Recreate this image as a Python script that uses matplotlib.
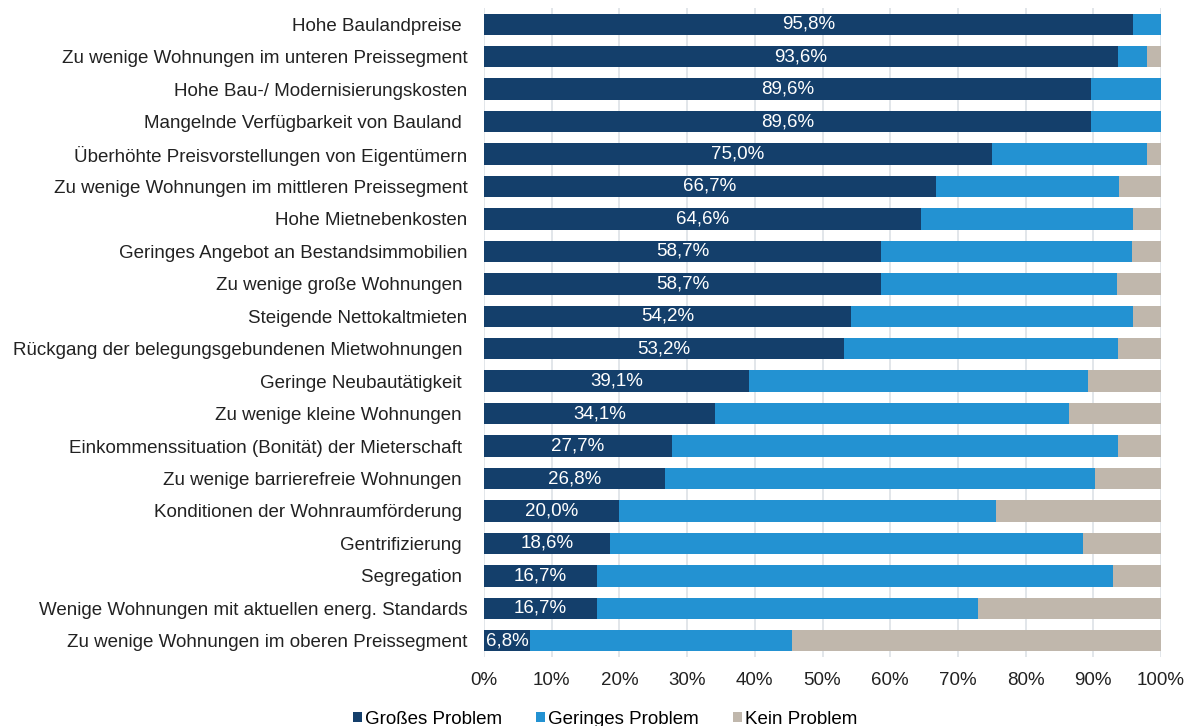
import matplotlib.pyplot as plt
import numpy as np

plt.rcParams['font.family'] = ['Liberation Sans', 'DejaVu Sans']

# Problemfelder (von oben nach unten), Leerzeichen am Ende wie im Original-Label
categories = [
    "Hohe Baulandpreise ",
    "Zu wenige Wohnungen im unteren Preissegment",
    "Hohe Bau-/ Modernisierungskosten",
    "Mangelnde Verfügbarkeit von Bauland ",
    "Überhöhte Preisvorstellungen von Eigentümern",
    "Zu wenige Wohnungen im mittleren Preissegment",
    "Hohe Mietnebenkosten",
    "Geringes Angebot an Bestandsimmobilien",
    "Zu wenige große Wohnungen ",
    "Steigende Nettokaltmieten",
    "Rückgang der belegungsgebundenen Mietwohnungen ",
    "Geringe Neubautätigkeit ",
    "Zu wenige kleine Wohnungen ",
    "Einkommenssituation (Bonität) der Mieterschaft ",
    "Zu wenige barrierefreie Wohnungen ",
    "Konditionen der Wohnraumförderung ",
    "Gentrifizierung ",
    "Segregation ",
    "Wenige Wohnungen mit aktuellen energ. Standards",
    "Zu wenige Wohnungen im oberen Preissegment",
]

grosses = [95.8, 93.6, 89.6, 89.6, 75.0, 66.7, 64.6, 58.7, 58.7, 54.2,
           53.2, 39.1, 34.1, 27.7, 26.8, 20.0, 18.6, 16.7, 16.7, 6.8]
geringes = [4.2, 4.3, 10.4, 10.4, 22.9, 27.1, 31.3, 37.0, 34.8, 41.7,
            40.4, 50.1, 52.3, 65.9, 63.4, 55.6, 69.9, 76.2, 56.3, 38.7]
kein = [0.0, 2.1, 0.0, 0.0, 2.1, 6.2, 4.1, 4.3, 6.5, 4.1,
        6.4, 10.8, 13.6, 6.4, 9.8, 24.4, 11.5, 7.1, 27.0, 54.5]

series_names = ["Großes Problem", "Geringes Problem", "Kein Problem"]
colors = ["#143F6B", "#2392D2", "#C0B7AC"]

fig = plt.figure(figsize=(11.86, 7.26), dpi=100)
ax = fig.add_axes([484 / 1186, 1 - 657 / 726, 677 / 1186, 649 / 726])

y = np.arange(len(categories))
h = 0.66
g = np.array(grosses)
m = np.array(geringes)
k = np.array(kein)

b1 = ax.barh(y, g, height=h, color=colors[0], label=series_names[0])
b2 = ax.barh(y, m, left=g, height=h, color=colors[1], label=series_names[1])
b3 = ax.barh(y, k, left=g + m, height=h, color=colors[2], label=series_names[2])

for yi, v in zip(y, grosses):
    ax.text(v / 2, yi, f"{v:.1f}%".replace(".", ","), ha="center", va="center",
            color="white", fontsize=13.5)

ax.set_xlim(0, 100)
ax.set_ylim(len(categories) - 0.5, -0.5)
ax.set_yticks(y)
ax.set_yticklabels(categories, fontsize=13.5, color="#222222")
ax.set_xticks(np.arange(0, 101, 10))
ax.set_xticklabels([f"{t}%" for t in range(0, 101, 10)], fontsize=13.5, color="#222222")
ax.tick_params(axis="y", length=0, pad=12)
ax.tick_params(axis="x", length=0, pad=11)

ax.xaxis.grid(True, color="#DDE1E6", linewidth=1.2)
ax.set_axisbelow(True)
for s in ax.spines.values():
    s.set_visible(False)

fig.legend(handles=[b1, b2, b3], labels=series_names, loc="center",
           bbox_to_anchor=(605 / 1186, 1 - 719 / 726), ncol=3, frameon=False,
           fontsize=13.5, handlelength=0.5, handleheight=0.5,
           handletextpad=0.15, columnspacing=1.8)

fig.savefig("out.png", dpi=100)
